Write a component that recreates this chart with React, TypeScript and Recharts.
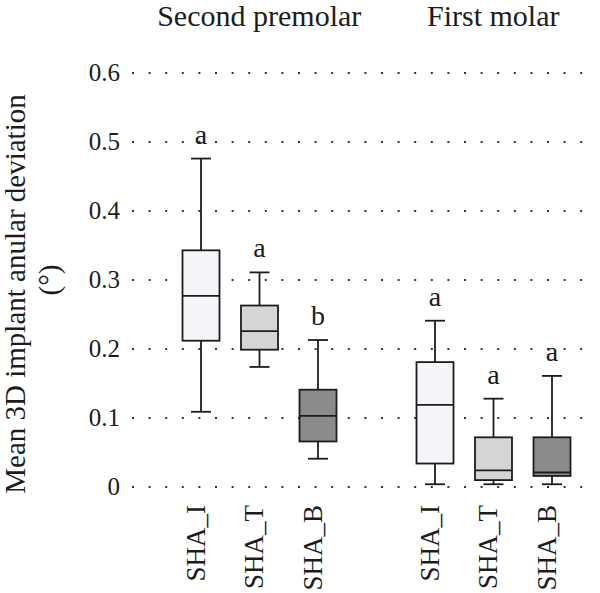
import React from "react";
import {
    BarChart,
    Bar,
    XAxis,
    YAxis,
    CartesianGrid,
} from "recharts";

// one slot per box, the empty slot separates the two tooth groups
const tickNames = ["SHA_I", "SHA_T", "SHA_B", "", "SHA_I", "SHA_T", "SHA_B"];
const groupNames = ["Second premolar", "First molar"];
const groupCenters = [1, 5];

const minVals = [0.109, 0.174, 0.041, null, 0.004, 0.004, 0.004];
const q1Vals = [0.212, 0.199, 0.066, null, 0.034, 0.010, 0.016];
const medianVals = [0.277, 0.226, 0.103, null, 0.119, 0.024, 0.021];
const q3Vals = [0.343, 0.263, 0.141, null, 0.181, 0.072, 0.072];
const maxVals = [0.476, 0.311, 0.213, null, 0.241, 0.128, 0.161];
const letters = ["a", "a", "b", "", "a", "a", "a"];

const yTicks = [0, 0.1, 0.2, 0.3, 0.4, 0.5, 0.6];

const FONT = '"Liberation Serif", "Times New Roman", serif';
const INK = "#1c1c1c";
const boxFill: Record<string, string> = {
    SHA_I: "#f4f5f8",
    SHA_T: "#d5d5d5",
    SHA_B: "#8b8b8b",
};

const rows = tickNames.map((name, i) => ({
    slot: i,
    name,
    min: minVals[i],
    q1: q1Vals[i],
    median: medianVals[i],
    q3: q3Vals[i],
    max: maxVals[i],
    letter: letters[i],
}));

function BoxShape(props: any) {
    const { x, y, width, height, payload } = props;
    if (payload == null || payload.max == null) return null;
    const top = Math.min(y, y + height);
    const bottom = Math.max(y, y + height);
    const span = payload.max - payload.min;
    // the bar covers min..max, so map the quartiles inside it
    const py = (v: number) => bottom - ((v - payload.min) / span) * (bottom - top);
    const cx = x + width / 2;
    const cap = 10;
    const sw = 1.8;
    return (
        <g>
            <line x1={cx} x2={cx} y1={py(payload.max)} y2={py(payload.q3)} stroke={INK} strokeWidth={sw} />
            <line x1={cx} x2={cx} y1={py(payload.q1)} y2={py(payload.min)} stroke={INK} strokeWidth={sw} />
            <line x1={cx - cap} x2={cx + cap} y1={py(payload.max)} y2={py(payload.max)} stroke={INK} strokeWidth={sw} />
            <line x1={cx - cap} x2={cx + cap} y1={py(payload.min)} y2={py(payload.min)} stroke={INK} strokeWidth={sw} />
            <rect
                x={x}
                y={py(payload.q3)}
                width={width}
                height={py(payload.q1) - py(payload.q3)}
                fill={boxFill[payload.name]}
                stroke={INK}
                strokeWidth={sw}
            />
            <line x1={x} x2={x + width} y1={py(payload.median)} y2={py(payload.median)} stroke={INK} strokeWidth={sw} />
            <text
                x={cx}
                y={py(payload.max) - 15}
                textAnchor="middle"
                style={{ fontFamily: FONT, fontSize: 28, fill: INK }}
            >
                {payload.letter}
            </text>
        </g>
    );
}

function BottomTick(props: any) {
    const { x, y, payload } = props;
    const name = tickNames[payload.value];
    if (!name) return null;
    const tx = x + 4;
    const ty = y + 18;
    return (
        <text
            x={tx}
            y={ty}
            transform={`rotate(-90, ${tx}, ${ty})`}
            textAnchor="end"
            style={{ fontFamily: FONT, fontSize: 27, fill: INK }}
        >
            {name}
        </text>
    );
}

function TopTick(props: any) {
    const { x, payload } = props;
    const g = groupCenters.indexOf(payload.value);
    if (g < 0) return null;
    return (
        <text x={x} y={26} textAnchor="middle" style={{ fontFamily: FONT, fontSize: 30, fill: INK }}>
            {groupNames[g]}
        </text>
    );
}

function LeftTick(props: any) {
    const { x, y, payload } = props;
    const v = payload.value as number;
    return (
        <text
            x={x}
            y={y}
            dy={8}
            textAnchor="end"
            style={{ fontFamily: FONT, fontSize: 25, fill: INK }}
        >
            {v === 0 ? "0" : v.toFixed(1)}
        </text>
    );
}

function YTitle(props: any) {
    const { viewBox } = props;
    const mid = viewBox.y + viewBox.height / 2;
    const c1 = mid + 14;
    const c2 = mid;
    const style = { fontFamily: FONT, fontSize: 29, fill: INK };
    return (
        <g>
            <text x={25} y={c1} transform={`rotate(-90, 25, ${c1})`} textAnchor="middle" style={style}>
                Mean 3D implant anular deviation
            </text>
            <text x={59} y={c2} transform={`rotate(-90, 59, ${c2})`} textAnchor="middle" style={style}>
                (°)
            </text>
        </g>
    );
}

export default function App() {
    return (
        <div style={{ width: 600, height: 593, background: "#fff" }}>
            <style>{`body { margin: 0; }`}</style>
            <BarChart
                width={600}
                height={593}
                data={rows}
                margin={{ top: 0, right: 8, bottom: 0, left: 0 }}
                barSize={37}
            >
                <CartesianGrid
                    horizontal
                    vertical={false}
                    stroke="#333"
                    strokeWidth={1.8}
                    strokeDasharray="2 14.6"
                />
                <XAxis
                    dataKey="slot"
                    type="category"
                    height={106}
                    axisLine={false}
                    tickLine={false}
                    tickSize={0}
                    tickMargin={0}
                    interval={0}
                    padding={{ left: 39.5, right: 11 }}
                    tick={<BottomTick />}
                />
                <XAxis
                    xAxisId="top"
                    orientation="top"
                    dataKey="slot"
                    type="category"
                    height={73}
                    axisLine={false}
                    tickLine={false}
                    tickSize={0}
                    tickMargin={0}
                    interval={0}
                    padding={{ left: 39.5, right: 11 }}
                    tick={<TopTick />}
                />
                <YAxis
                    width={132}
                    domain={[0, 0.6]}
                    ticks={yTicks}
                    axisLine={false}
                    tickLine={false}
                    tickSize={0}
                    tickMargin={12}
                    tick={<LeftTick />}
                    label={<YTitle />}
                />
                <Bar
                    dataKey={(d: any) => (d.max == null ? null : [d.min, d.max])}
                    shape={<BoxShape />}
                    isAnimationActive={false}
                />
            </BarChart>
        </div>
    );
}
